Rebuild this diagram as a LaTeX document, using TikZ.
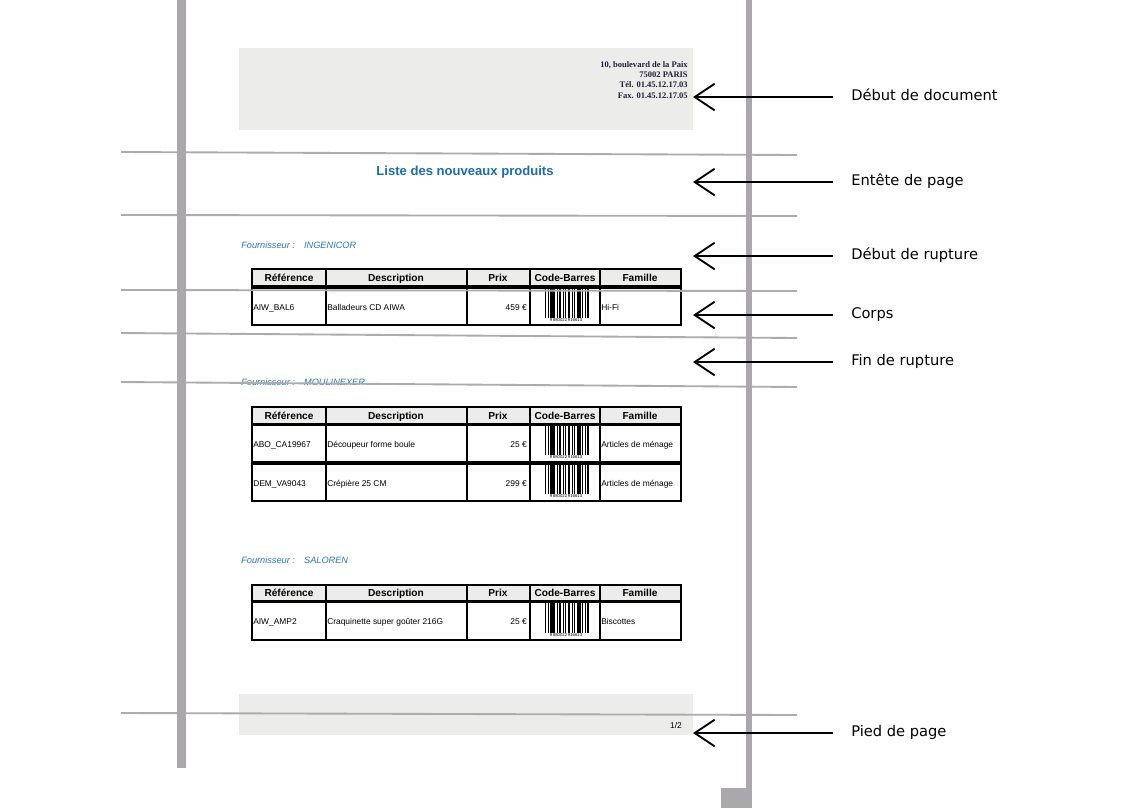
\documentclass[tikz,border=0pt]{standalone}
\usepackage{fontspec}
\setmainfont{Liberation Sans}
\newfontfamily\etiq{DejaVu Sans}
\newfontfamily\adresse{Liberation Serif}
\usepackage{xcolor}
\usepackage{tikz}
\usetikzlibrary{calc,arrows.meta}
\definecolor{barre}{RGB}{170,168,172}
\definecolor{trait}{RGB}{172,172,172}
\definecolor{fond}{RGB}{236,237,235}
\definecolor{titrebleu}{RGB}{28,108,176}
\definecolor{fournbleu}{RGB}{40,120,196}
\definecolor{encre}{RGB}{35,30,55}

\tikzset{
  cellule/.style={draw=black,line width=0.9pt},
  entete/.style={cellule,fill=fond},
  txt/.style={inner sep=0pt,font=\fontsize{6.3}{7}\selectfont},
  tete/.style={inner sep=0pt,anchor=mid,font=\fontsize{7.6}{8}\selectfont\bfseries},
  fleche/.style={line width=1.4pt,-{Straight Barb[length=15pt,width=20pt]}},
  legende/.style={anchor=mid west,inner sep=0pt,font=\etiq\fontsize{11}{13}\selectfont},
  fourn/.style={anchor=mid west,inner sep=0pt,text=fournbleu,font=\fontsize{6.9}{8}\selectfont\itshape},
  separation/.style={trait,line width=1.4pt},
}

% ligne d'en-tete d'un tableau, #1 = haut, #2 = bas
\newcommand\tetetab[3]{%
  \foreach \a/\b in {252/326,326/467,467/530,530/600,600/681}
    {\draw[entete](\a,#1)rectangle(\b,#2);}
  \node[tete](h1-#3)at(289,{(#1+#2)/2}){R\'ef\'erence};
  \node[tete](h2-#3)at(396,{(#1+#2)/2}){Description};
  \node[tete](h3-#3)at(498,{(#1+#2)/2}){Prix};
  \node[tete](h4-#3)at(565,{(#1+#2)/2}){Code-Barres};
  \node[tete](h5-#3)at(640,{(#1+#2)/2}){Famille};}

% une ligne de produit
\newcommand\produit[7]{%
  \foreach \a/\b in {252/326,326/467,467/530,530/600,600/681}{\draw[cellule](\a,#1)rectangle(\b,#2);}
  \node[txt,anchor=mid west](ref-#7)at(253,{(#1+#2)/2}){#3};
  \node[txt,anchor=mid west](desc-#7)at(327,{(#1+#2)/2}){#4};
  \node[txt,anchor=mid east](prix-#7)at(527,{(#1+#2)/2}){#5};
  \node[txt,anchor=mid west](fam-#7)at(601,{(#1+#2)/2}){#6};
  \foreach \o/\w in {0/1,2.5/1,5/5,11.5/1,14/2,17.5/1,20/1,22.5/2.2,26.5/1,29/1,31.5/4,37/1,39.5/1,42/1.6}
    {\fill[black](545+\o,#1+1)rectangle(545+\o+\w,#2-7);}
  \node[inner sep=0pt,font=\fontsize{3.2}{3.2}\selectfont](code-#7)at(566,#2-4.5){9\,880022\,916613};}

\begin{document}
\begin{tikzpicture}[x=0.75pt,y=-0.75pt]
\useasboundingbox(0,0)rectangle(1124,808);
\fill[white](0,0)rectangle(1124,808);
% blocs gris du haut et du bas
\fill[fond](239,48)rectangle(693,130);
\fill[fond](239,694)rectangle(693,735);
\node[anchor=east,inner sep=0pt,align=right,text=encre,font=\adresse\bfseries\fontsize{6.4}{7.6}\selectfont](adr)at(688,80)
  {10, boulevard de la Paix\\75002 PARIS\\T\'el. 01.45.12.17.03\\Fax. 01.45.12.17.05};
\node[inner sep=0pt,font=\fontsize{6.3}{7}\selectfont](num)at(676,725){1/2};
\node[text=titrebleu,font=\fontsize{9.8}{11}\selectfont\bfseries](titre)at(465,172){Liste des nouveaux produits};
% groupes de fournisseurs
\node[fourn](f1)at(241,245){Fournisseur :\quad INGENICOR};
\node[fourn](f2)at(241,382){Fournisseur :\quad MOULINEXER};
\node[fourn](f3)at(241,560){Fournisseur :\quad SALOREN};
\tetetab{269}{286}{a}
\produit{288}{325}{AIW\_BAL6}{Balladeurs CD AIWA}{459 \texteuro}{Hi-Fi}{a1}
\tetetab{407}{424}{b}
\produit{425}{462}{ABO\_CA19967}{D\'ecoupeur forme boule}{25 \texteuro}{Articles de m\'enage}{b1}
\produit{464}{501}{DEM\_VA9043}{Cr\'epi\`ere 25 CM}{299 \texteuro}{Articles de m\'enage}{b2}
\tetetab{585}{601}{c}
\produit{602}{640}{AIW\_AMP2}{Craquinette super go\^uter 216G}{25 \texteuro}{Biscottes}{c1}
% traits de separation des sections
\draw[separation](121,152)--(797,155);
\draw[separation](121,215)--(797,216);
\draw[separation](121,290)--(797,291);
\draw[separation](121,333)--(797,338);
\draw[separation](121,382)--(797,387);
\draw[separation](121,713)--(797,715);
% bords de la page
\fill[barre](177,0)rectangle(186,768);
\fill[barre](746,0)rectangle(752,808);
\fill[barre](721,788)rectangle(752,808);
% legendes et fleches
\foreach \y/\n/\t in {97/doc/D\'ebut de document,182/ent/Ent\^ete de page,256/deb/D\'ebut de rupture,315/corps/Corps,362/fin/Fin de rupture,733/pied/Pied de page}{
  \node[legende](\n)at(851,\y){\t};
  \coordinate(c-\n)at(693,\y);
  \draw[fleche]($(\n.mid west)+(-18,0)$)--(c-\n);}
\end{tikzpicture}
\end{document}
